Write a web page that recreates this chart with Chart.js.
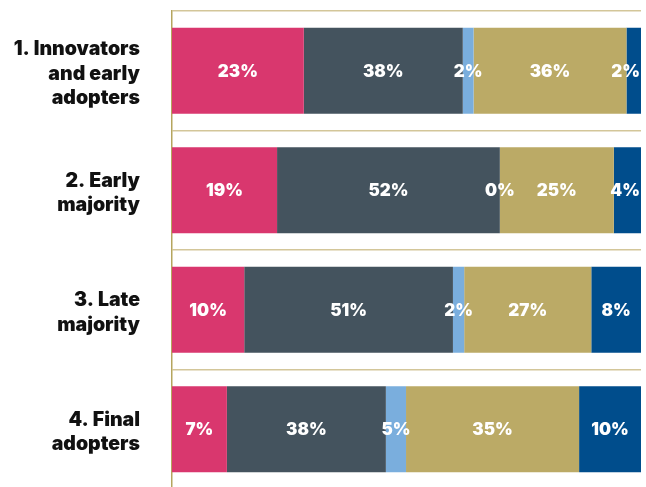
<!DOCTYPE html>
<html>
<head>
<meta charset="utf-8">
<script src="https://cdn.jsdelivr.net/npm/chart.js@4"></script>
<style>
  html, body { margin: 0; padding: 0; background: #ffffff; overflow: hidden; }
  #wrap { position: relative; width: 646px; height: 490px; }
</style>
</head>
<body>
<div id="wrap"><canvas id="c"></canvas></div>
<script>
// Categories (multi-line labels)
const categories = [
  ["1. Innovators", "and early", "adopters"],
  ["2. Early", "majority"],
  ["3. Late", "majority"],
  ["4. Final", "adopters"]
];
const seriesNames = ["Segment A", "Segment B", "Segment C", "Segment D", "Segment E"];

// Bar lengths as drawn in the picture (share of bar width, %)
const seriesA = [28.1, 22.4, 15.4, 11.7];
const seriesB = [33.9, 47.5, 44.5, 33.9];
const seriesC = [2.3, 0.0, 2.4, 4.3];
const seriesD = [32.6, 24.3, 27.1, 36.9];
const seriesE = [3.1, 5.8, 10.6, 13.2];

// Printed value labels
const labelsA = ["23%", "19%", "10%", "7%"];
const labelsB = ["38%", "52%", "51%", "38%"];
const labelsC = ["2%", "0%", "2%", "5%"];
const labelsD = ["36%", "25%", "27%", "35%"];
const labelsE = ["2%", "4%", "8%", "10%"];

const colors = ["#d9376e", "#44535e", "#7aaedd", "#bbaa66", "#004d8c"];
const allValues = [seriesA, seriesB, seriesC, seriesD, seriesE];
const allLabels = [labelsA, labelsB, labelsC, labelsD, labelsE];

const FONT = "Inter, 'Liberation Sans', Arial, sans-serif";

const valueLabelPlugin = {
  id: "valueLabels",
  afterDatasetsDraw(chart) {
    const ctx = chart.ctx;
    const area = chart.chartArea;
    ctx.save();
    ctx.font = "900 17px " + FONT;
    ctx.fillStyle = "#ffffff";
    ctx.textAlign = "center";
    ctx.textBaseline = "middle";
    chart.data.datasets.forEach((ds, di) => {
      const meta = chart.getDatasetMeta(di);
      meta.data.forEach((bar, i) => {
        const text = allLabels[di][i];
        const left = Math.min(bar.x, bar.base);
        const right = Math.max(bar.x, bar.base);
        let cx = (left + right) / 2;
        const w = ctx.measureText(text).width;
        if (cx + w / 2 > area.right - 1) cx = area.right - 1 - w / 2;
        ctx.fillText(text, cx, bar.y + 1);
      });
    });
    ctx.restore();
  }
};

new Chart(document.getElementById("c"), {
  type: "bar",
  data: {
    labels: categories,
    datasets: allValues.map((vals, i) => ({
      label: seriesNames[i],
      data: vals,
      backgroundColor: colors[i],
      borderWidth: 0,
      barPercentage: 0.72,
      categoryPercentage: 1.0
    }))
  },
  options: {
    indexAxis: "y",
    responsive: true,
    maintainAspectRatio: false,
    animation: false,
    layout: { padding: { top: 11, right: 5, bottom: 1, left: 0 } },
    plugins: {
      legend: { display: false },
      tooltip: { enabled: false }
    },
    scales: {
      x: {
        stacked: true,
        min: 0,
        max: 100,
        display: false
      },
      y: {
        stacked: true,
        afterFit(scale) {
          scale.width = 172;
          scale.paddingTop = 0;
          scale.paddingBottom = 0;
        },
        grid: {
          offset: true,
          color: "#d3c699",
          lineWidth: 1.5,
          drawTicks: false
        },
        border: { display: true, color: "#b5a55e", width: 1.5 },
        ticks: {
          padding: 32,
          labelOffset: 3,
          color: "#111111",
          font: { family: FONT, size: 19.5, weight: "900", lineHeight: 1.25 }
        }
      }
    }
  },
  plugins: [valueLabelPlugin]
});
</script>
</body>
</html>
